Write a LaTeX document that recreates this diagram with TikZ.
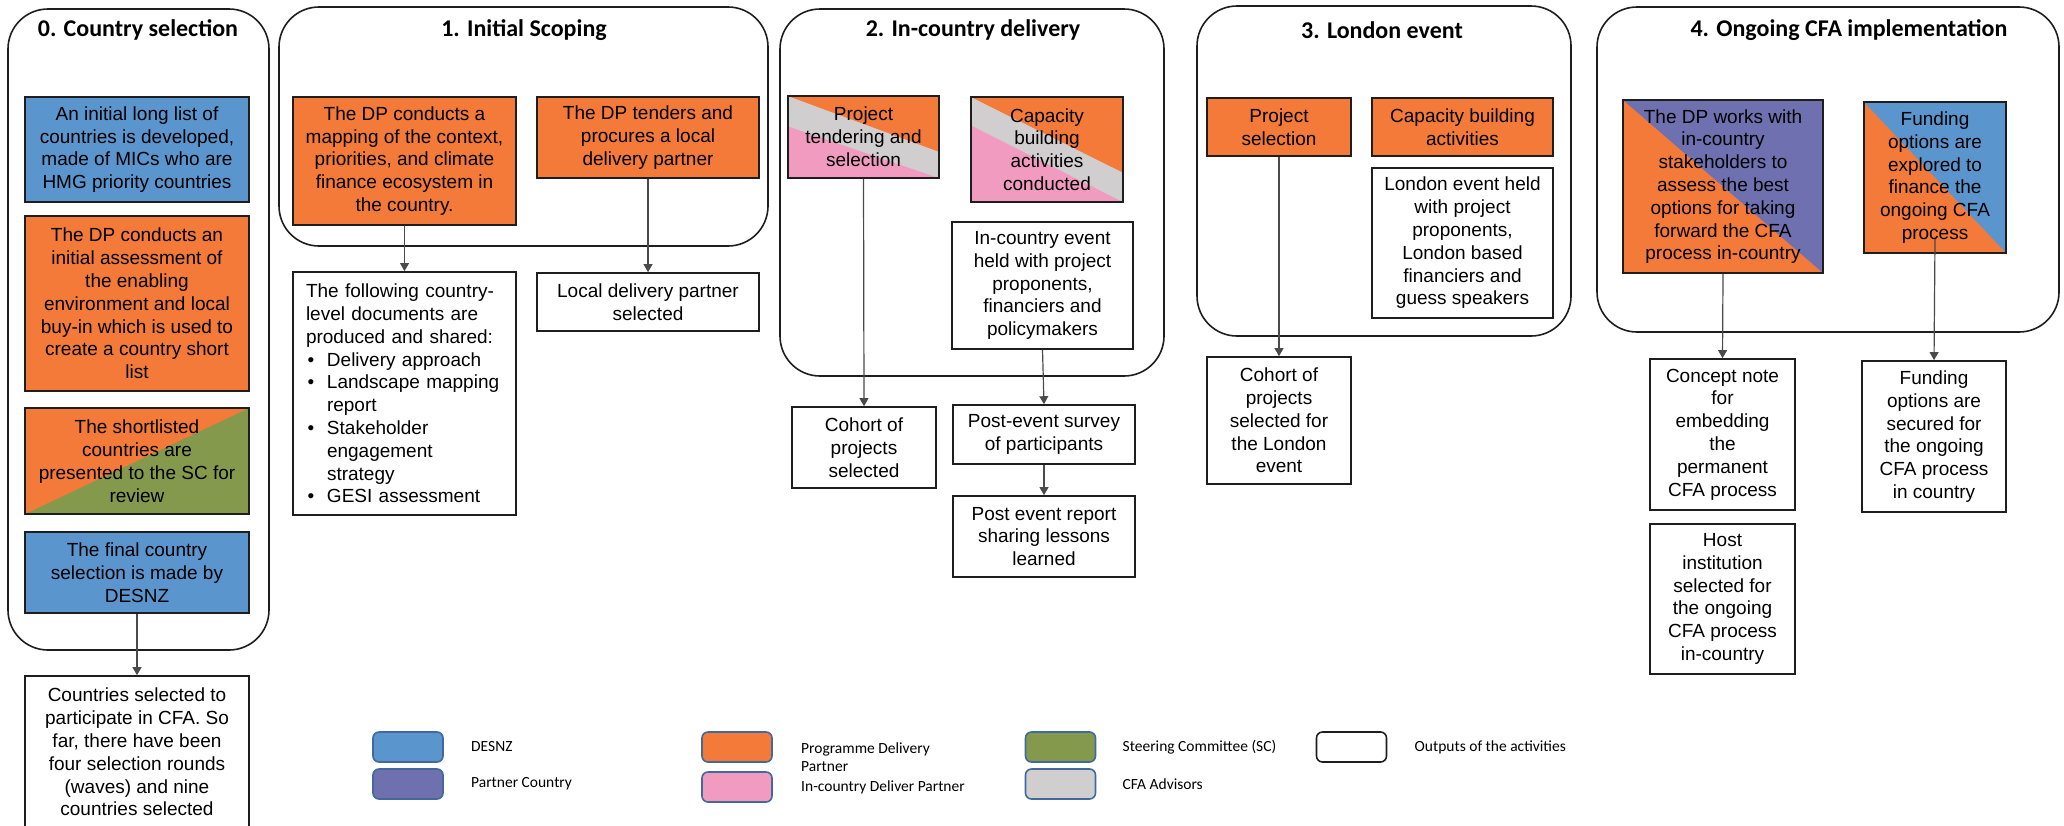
\documentclass[tikz,border=0pt]{standalone}
\usepackage{fontspec}
\setmainfont{Liberation Sans}
\newfontfamily\calib{Carlito}
\usepackage{xcolor}
\definecolor{desnz}{HTML}{5B95CD}
\definecolor{dporg}{HTML}{F47A3A}
\definecolor{scgrn}{HTML}{84994C}
\definecolor{pcprp}{HTML}{6F70AF}
\definecolor{icpnk}{HTML}{F29BC0}
\definecolor{cfagry}{HTML}{D0CECE}
\definecolor{ink}{HTML}{1E1E1E}
\definecolor{wire}{HTML}{4A4A4A}
\definecolor{swedge}{HTML}{41699C}
\usepackage{tikz}
\usetikzlibrary{arrows.meta,positioning,calc}
\newcommand{\docbul}{\makebox[10.5pt][l]{\hspace{0.8pt}\textbullet}}
\newcommand{\docind}{\hspace*{10.5pt}}
\tikzset{
  >={Triangle[length=4pt,width=4.4pt]},
  sz/.style 2 args={minimum width=#1*0.5pt,minimum height=#2*0.5pt},
  stage/.style={draw=ink,rounded corners=20pt,line width=0.8pt,inner sep=0pt},
  ttl/.style={font=\calib\bfseries\fontsize{12}{14}\selectfont},
  box/.style={draw=ink,line width=0.8pt,inner sep=0pt,align=center,fill=white,font=\fontsize{9.5}{11.4}\selectfont},
  dbox/.style={box,fill=desnz},
  pbox/.style={box,fill=dporg},
  half/.style 2 args={box,fill=#1,path picture={
    \fill[#2] (path picture bounding box.north west) -- (path picture bounding box.north east)
      -- (path picture bounding box.south east) -- cycle;}},
  halfup/.style 2 args={box,fill=#2,path picture={
    \fill[#1] (path picture bounding box.north west) -- (path picture bounding box.north east)
      -- (path picture bounding box.south west) -- cycle;}},
  bands/.style 2 args={box,fill=icpnk,path picture={
    \coordinate (nw) at (path picture bounding box.north west);
    \coordinate (ne) at (path picture bounding box.north east);
    \coordinate (sw) at (path picture bounding box.south west);
    \coordinate (se) at (path picture bounding box.south east);
    \fill[cfagry] (nw) -- ($(ne)!#1!(se)$) -- (se) -- ($(nw)!#2!(sw)$) -- cycle;
    \fill[dporg] (nw) -- (ne) -- ($(ne)!#1!(se)$) -- cycle;}},
  arr/.style={->,draw=wire,line width=0.6pt},
  swatch/.style={draw=swedge,rounded corners=3pt,line width=0.8pt,minimum width=35pt,minimum height=15pt,inner sep=0pt},
  keytxt/.style={font=\calib\fontsize{7.75}{9.2}\selectfont,align=left,inner sep=0pt},
}
\begin{document}
\begin{tikzpicture}[x=0.5pt,y=-0.5pt]
\useasboundingbox[fill=white] (0,0) rectangle (2064,825);
% stages
\node[stage,sz={261}{641}] (st0) at (138.5,329.5) {};
\node[stage,sz={489}{239}] (st1) at (523.5,126.5) {};
\node[stage,sz={384}{367}] (st2) at (972,192.5) {};
\node[stage,sz={374}{330}] (st3) at (1384,171) {};
\node[stage,sz={462}{325}] (st4) at (1828,169.5) {};
\node[ttl] (tt0) at (138,30) {0. Country selection};
\node[ttl] (tt1) at (524,30) {1. Initial Scoping};
\node[ttl] (tt2) at (973,30) {2. In-country delivery};
\node[ttl] (tt3) at (1382,30) {3. London event};
\node[ttl] (tt4) at (1849,30) {4. Ongoing CFA implementation};
% 0. country selection
\node[dbox,sz={224}{105}] (lng) at (137,149.5) {An initial long list of\\countries is developed,\\made of MICs who are\\HMG priority countries};
\node[pbox,sz={224}{175}] (ass) at (137,303.5) {The DP conducts an\\initial assessment of\\the enabling\\environment and local\\buy-in which is used to\\create a country short\\list};
\node[halfup={dporg}{scgrn},sz={224}{106}] (shl) at (137,461) {The shortlisted\\countries are\\presented to the SC for\\review};
\node[dbox,sz={224}{81}] (fin) at (137,572.5) {The final country\\selection is made by\\DESNZ};
\node[box,sz={224}{152}] (cty) at (137,752) {Countries selected to\\participate in CFA. So\\far, there have been\\four selection rounds\\(waves) and nine\\countries selected};
% 1. initial scoping
\node[pbox,sz={223}{128}] (map) at (404.5,161) {The DP conducts a\\mapping of the context,\\priorities, and climate\\finance ecosystem in\\the country.};
\node[pbox,sz={222}{81}] (tdr) at (648,137.5) {The DP tenders and\\procures a local\\delivery partner};
\node[box,sz={223}{243},text width=98.5pt,align=left] (docs) at (404.5,393.5) {The following country-\\level documents are\\produced and shared:\\\docbul Delivery approach\\\docbul Landscape mapping\\\docind report\\\docbul Stakeholder\\\docind engagement\\\docind strategy\\\docbul GESI assessment};
\node[box,sz={222}{58}] (ldp) at (648,302) {Local delivery partner\\selected};
% 2. in-country delivery
\node[bands={0.68}{0.37},sz={151}{82}] (ptend) at (863.5,137) {Project\\tendering and\\selection};
\node[bands={0.72}{0.27},sz={152}{105}] (cbac) at (1047,149.5) {Capacity\\building\\activities\\conducted};
\node[box,sz={181}{127}] (ice) at (1042.5,285.5) {In-country event\\held with project\\proponents,\\financiers and\\policymakers};
\node[box,sz={144}{81}] (coh) at (864,447.5) {Cohort of\\projects\\selected};
\node[box,sz={182}{59}] (pes) at (1044,434.5) {Post-event survey\\of participants};
\node[box,sz={182}{81}] (per) at (1044,536.5) {Post event report\\sharing lessons\\learned};
% 3. london event
\node[pbox,sz={144}{58}] (psel) at (1279,127) {Project\\selection};
\node[pbox,sz={181}{58}] (lcap) at (1462.5,127) {Capacity building\\activities};
\node[box,sz={181}{150}] (lev) at (1462.5,243) {London event held\\with project\\proponents,\\London based\\financiers and\\guess speakers};
\node[box,sz={144}{127}] (lcoh) at (1279,420.5) {Cohort of\\projects\\selected for\\the London\\event};
% 4. ongoing cfa implementation
\node[half={dporg}{pcprp},sz={200}{173}] (dpw) at (1723,186.5) {The DP works with\\in-country\\stakeholders to\\assess the best\\options for taking\\forward the CFA\\process in-country};
\node[half={dporg}{desnz},sz={142}{151}] (fexp) at (1935,177.5) {Funding\\options are\\explored to\\finance the\\ongoing CFA\\process};
\node[box,sz={145}{151}] (cnote) at (1722.5,434.5) {Concept note\\for\\embedding\\the\\permanent\\CFA process};
\node[box,sz={145}{150}] (host) at (1722.5,599) {Host\\institution\\selected for\\the ongoing\\CFA process\\in-country};
\node[box,sz={144}{151}] (fsec) at (1934,436.5) {Funding\\options are\\secured for\\the ongoing\\CFA process\\in country};
% arrows
\draw[arr] (fin.south) -- (cty.north);
\draw[arr] (map.south) -- (docs.north);
\draw[arr] (tdr.south) -- (ldp.north);
\draw[arr] (ptend.south) -- (coh.north);
\draw[arr] (ice.south) -- (pes.north);
\draw[arr] (pes.south) -- (per.north);
\draw[arr] (psel.south) -- (lcoh.north);
\draw[arr] (dpw.south) -- (cnote.north);
\draw[arr] ([yshift=7.5pt]fexp.south) -- (fsec.north);
% legend
\node[swatch,fill=desnz] (kd) at (408,747) {};
\node[swatch,fill=pcprp] (kp) at (408,784) {};
\node[swatch,fill=dporg] (ko) at (737,747) {};
\node[swatch,fill=icpnk] (ki) at (737,787) {};
\node[swatch,fill=scgrn] (ks) at (1060.5,747) {};
\node[swatch,fill=cfagry] (kc) at (1060.5,784) {};
\node[swatch,draw=ink,fill=white] (kw) at (1351.5,747) {};
\node[keytxt,right=13.5pt of kd] (ld) {DESNZ};
\node[keytxt,right=13.5pt of kp] (lp) {Partner Country};
\node[keytxt,right=14pt of ko,yshift=-5pt] (lo) {Programme Delivery\\Partner};
\node[keytxt,right=14pt of ki] (li) {In-country Deliver Partner};
\node[keytxt,right=13pt of ks] (ls) {Steering Committee (SC)};
\node[keytxt,right=13pt of kc] (lc) {CFA Advisors};
\node[keytxt,right=13.5pt of kw] (lw) {Outputs of the activities};
\end{tikzpicture}
\end{document}
